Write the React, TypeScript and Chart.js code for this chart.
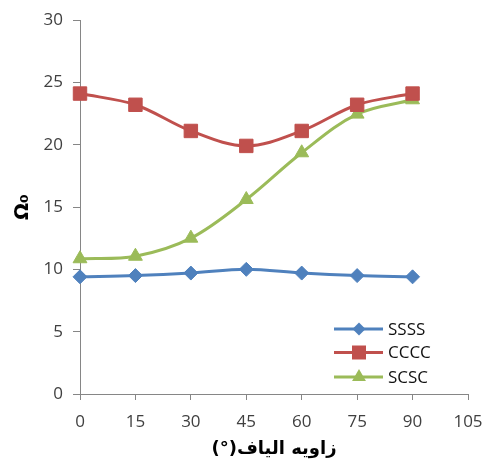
import React, { useEffect, useRef } from 'react';
import { Chart, registerables } from 'chart.js';

Chart.register(...registerables);

const angles = [0, 15, 30, 45, 60, 75, 90];
const ssss = [9.4, 9.5, 9.7, 10.0, 9.7, 9.5, 9.4];
const cccc = [24.1, 23.2, 21.1, 19.9, 21.1, 23.2, 24.1];
const scsc = [10.85, 11.05, 12.5, 15.6, 19.35, 22.45, 23.6];
const seriesNames = ['SSSS', 'CCCC', 'SCSC'];
const seriesColors = ['#4F81BD', '#C0504D', '#9BBB59'];
const pointStyles = ['rectRot', 'rect', 'triangle'];
const pointRadii = [7, 9.5, 8];
const xTicks = [0, 15, 30, 45, 60, 75, 90, 105];
const yTicks = [0, 5, 10, 15, 20, 25, 30];
const xTitle = 'زاویه الیاف(°)\u200F';
const yTitle = 'Ω₀';

const legendPlugin = {
  id: 'insideLegend',
  afterDraw(chart: any) {
    const { ctx, chartArea } = chart;
    const rowOffsets = [65, 41.5, 17];
    chart.data.datasets.forEach((ds: any, i: number) => {
      const y = chartArea.bottom - rowOffsets[i];
      const x0 = chartArea.right - 134;
      const x1 = chartArea.right - 85;
      const mx = chartArea.right - 109;
      ctx.save();
      ctx.strokeStyle = ds.borderColor;
      ctx.lineWidth = 3;
      ctx.beginPath();
      ctx.moveTo(x0, y);
      ctx.lineTo(x1, y);
      ctx.stroke();
      ctx.fillStyle = ds.pointBackgroundColor;
      ctx.beginPath();
      if (ds.pointStyle === 'rectRot') {
        const r = 6.5;
        ctx.moveTo(mx, y - r);
        ctx.lineTo(mx + r, y);
        ctx.lineTo(mx, y + r);
        ctx.lineTo(mx - r, y);
        ctx.closePath();
      } else if (ds.pointStyle === 'rect') {
        const s = 7;
        ctx.rect(mx - s, y - s, 2 * s, 2 * s);
      } else {
        const r = 8;
        ctx.moveTo(mx, y - r);
        ctx.lineTo(mx + r * 0.866, y + r * 0.5);
        ctx.lineTo(mx - r * 0.866, y + r * 0.5);
        ctx.closePath();
      }
      ctx.fill();
      ctx.fillStyle = '#111';
      ctx.font = '17px "Open Sans"';
      ctx.textBaseline = 'middle';
      ctx.textAlign = 'left';
      ctx.fillText(ds.label, chartArea.right - 80, y + 1);
      ctx.restore();
    });
  },
};

export default function App() {
  const ref = useRef<HTMLCanvasElement>(null);
  useEffect(() => {
    if (!ref.current) return;
    const series = [ssss, cccc, scsc];
    const chart = new Chart(ref.current, {
      type: 'line',
      data: {
        datasets: series.map((vals, i) => ({
          label: seriesNames[i],
          data: angles.map((a, j) => ({ x: a, y: vals[j] })),
          borderColor: seriesColors[i],
          backgroundColor: seriesColors[i],
          pointBackgroundColor: seriesColors[i],
          pointBorderColor: seriesColors[i],
          pointStyle: pointStyles[i] as any,
          pointRadius: pointRadii[i],
          pointBorderWidth: 1,
          borderWidth: 3,
          tension: 0.35,
          fill: false,
          clip: false as any,
        })),
      },
      options: {
        animation: false,
        responsive: false,
        devicePixelRatio: 1,
        layout: { padding: { top: 20, right: 16, left: 0, bottom: 0 } },
        plugins: { legend: { display: false }, tooltip: { enabled: false } },
        scales: {
          x: {
            type: 'linear',
            min: xTicks[0],
            max: xTicks[xTicks.length - 1],
            afterBuildTicks: (s: any) => {
              s.ticks = xTicks.map((v) => ({ value: v }));
            },
            afterFit: (s: any) => {
              s.height = 68;
              s.paddingLeft = 0;
              s.paddingRight = 0;
            },
            ticks: {
              color: '#404040',
              font: { family: 'Open Sans', size: 17 },
              padding: 12,
              maxRotation: 0,
            },
            grid: { display: true, drawOnChartArea: false, drawTicks: true, tickLength: 6, color: '#868686' },
            border: { display: true, color: '#868686' },
            title: {
              display: true,
              text: xTitle,
              color: '#000',
              font: { family: 'DejaVu Sans', size: 18, weight: 'bold' },
              padding: { top: 0, bottom: 2 },
            },
          },
          y: {
            type: 'linear',
            min: yTicks[0],
            max: yTicks[yTicks.length - 1],
            afterBuildTicks: (s: any) => {
              s.ticks = yTicks.map((v) => ({ value: v }));
            },
            afterFit: (s: any) => {
              s.width = 80;
              s.paddingTop = 0;
              s.paddingBottom = 0;
            },
            ticks: {
              color: '#404040',
              font: { family: 'Open Sans', size: 17 },
              padding: 10,
            },
            grid: { display: true, drawOnChartArea: false, drawTicks: true, tickLength: 7, color: '#868686' },
            border: { display: true, color: '#868686' },
            title: {
              display: true,
              text: yTitle,
              color: '#000',
              font: { family: 'DejaVu Sans', size: 20, weight: 'bold' },
              padding: { top: 11, bottom: 0 },
            },
          },
        },
      },
      plugins: [legendPlugin],
    } as any);
    return () => chart.destroy();
  }, []);
  return (
    <div style={{ position: 'fixed', left: 0, top: 0, width: 484, height: 462, background: '#fff' }}>
      <canvas ref={ref} width={484} height={462} />
    </div>
  );
}
